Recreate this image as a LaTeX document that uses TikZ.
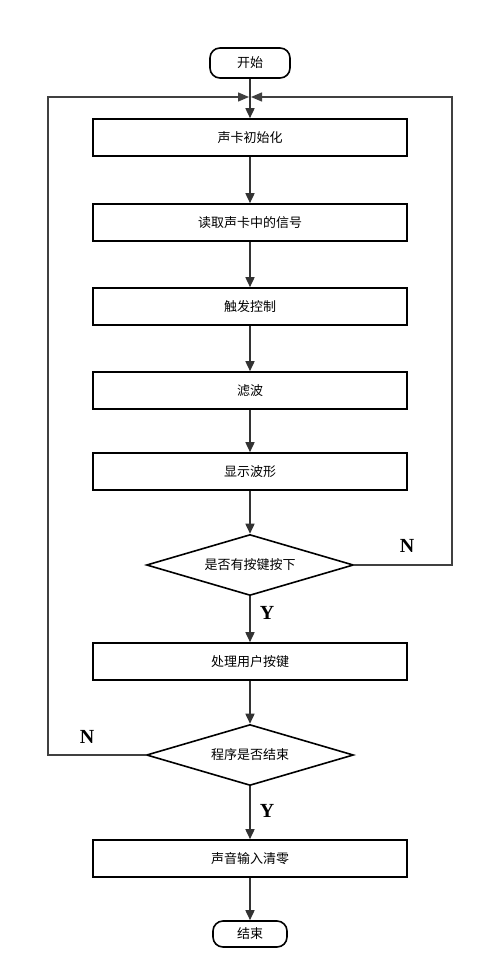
\documentclass[tikz,border=0pt]{standalone}
\usepackage{fontspec}
\newfontfamily\cjk{Noto Sans CJK SC}
\newfontfamily\lbl{Liberation Serif}
\usetikzlibrary{arrows.meta,shapes.geometric}
\begin{document}
\begin{tikzpicture}[x=1pt,y=-1pt,
  box/.style={draw=black,line width=1.6pt,minimum width=314pt,minimum height=37pt,inner sep=0pt,font=\cjk\fontsize{13}{15}\selectfont},
  term/.style={draw=black,line width=1.6pt,rounded corners=10pt,inner sep=0pt,font=\cjk\fontsize{13}{15}\selectfont},
  dec/.style={draw=black,line width=1.6pt,diamond,aspect=3.4,minimum width=207pt,minimum height=61pt,inner sep=0pt,font=\cjk\fontsize{13}{15}\selectfont},
  arr/.style={draw=black!80,line width=1.6pt,-{Triangle[length=10pt,width=9pt]}},
  back/.style={draw=black!75,line width=1.4pt,-{Triangle[length=11pt,width=9pt]}},
  yn/.style={font=\lbl\bfseries\fontsize{20}{21}\selectfont,inner sep=0pt}]
\useasboundingbox (0,0) rectangle (485,979);
\node[term,minimum width=80pt,minimum height=30pt] (start) at (250,63) {开始};
\node[box] (b1) at (250,137.5) {声卡初始化};
\node[box] (b2) at (250,222.5) {读取声卡中的信号};
\node[box] (b3) at (250,306.5) {触发控制};
\node[box] (b4) at (250,390.5) {滤波};
\node[box] (b5) at (250,471.5) {显示波形};
\node[dec] (d1) at (250,565) {是否有按键按下};
\node[box] (b6) at (250,661.5) {处理用户按键};
\node[dec] (d2) at (250,755) {程序是否结束};
\node[box] (b7) at (250,858.5) {声音输入清零};
\node[term,minimum width=74pt,minimum height=26pt] (end) at (250,934) {结束};
\coordinate (L) at (48,97);
\coordinate (R) at (452,97);
\coordinate (ml) at (249,97);
\coordinate (mr) at (251,97);
\draw[arr] (start) -- (b1);
\draw[arr] (b1) -- (b2);
\draw[arr] (b2) -- (b3);
\draw[arr] (b3) -- (b4);
\draw[arr] (b4) -- (b5);
\draw[arr] (b5) -- (d1);
\draw[arr] (d1) -- (b6);
\draw[arr] (b6) -- (d2);
\draw[arr] (d2) -- (b7);
\draw[arr] (b7) -- (end);
\draw[back] (d1.east) -| (R) -- (mr);
\draw[back] (d2.west) -| (L) -- (ml);
\node[yn] (n1) at (407,546) {N};
\node[yn] (y1) at (267,613) {Y};
\node[yn] (n2) at (87,737) {N};
\node[yn] (y2) at (267,811) {Y};
\end{tikzpicture}
\end{document}
